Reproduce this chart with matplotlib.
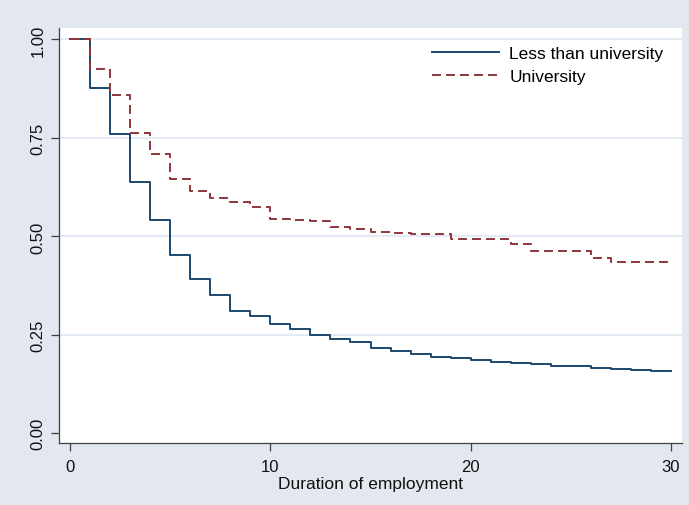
import matplotlib
matplotlib.use("Agg")
import matplotlib.pyplot as plt
import numpy as np

# ---- data ----
times = list(range(0, 31))
less_than_univ = [1.000, 0.878, 0.760, 0.638, 0.542, 0.452, 0.391, 0.351, 0.311, 0.297,
                  0.278, 0.264, 0.249, 0.240, 0.231, 0.217, 0.209, 0.201, 0.193, 0.192,
                  0.187, 0.182, 0.179, 0.176, 0.172, 0.171, 0.167, 0.164, 0.161, 0.158]
university = [1.000, 0.926, 0.859, 0.763, 0.708, 0.645, 0.615, 0.597, 0.587, 0.575,
              0.545, 0.542, 0.538, 0.525, 0.519, 0.510, 0.509, 0.505, 0.505, 0.493,
              0.493, 0.493, 0.481, 0.464, 0.464, 0.464, 0.446, 0.434, 0.434, 0.434]
series_labels = ["Less than university", "University"]
x_ticks = [0, 10, 20, 30]
y_ticks = [0.0, 0.25, 0.5, 0.75, 1.0]
y_ticklabels = ["0.00", "0.25", "0.50", "0.75", "1.00"]
x_label = "Duration of employment"

# ---- style ----
plt.rcParams['font.family'] = ['Liberation Sans', 'DejaVu Sans']
bg = "#E2E7F0"
navy = "#1A476F"
maroon = "#90353B"
grid_c = "#E2E8F2"
fs = 12.5

W, H = 689, 506
fig = plt.figure(figsize=(W / 100, H / 100), dpi=100, facecolor=bg)
ax = fig.add_axes([59 / W, 1 - 444.3 / H, (682 - 59) / W, (444.3 - 29.3) / H])
ax.set_facecolor("white")

blue_y = less_than_univ + [less_than_univ[-1]]
red_y = university + [university[-1]]
ax.step(times, blue_y, where="post", color=navy, lw=1.4, label=series_labels[0], zorder=3)
ax.step(times, red_y, where="post", color=maroon, lw=1.4, linestyle=(0, (4.6, 2.6)),
        label=series_labels[1], zorder=3)

ax.set_xlim(-0.55, 30.55)
ax.set_ylim(-0.0254, 1.0284)

ax.set_xticks(x_ticks)
ax.set_yticks(y_ticks)
ax.set_yticklabels(y_ticklabels, rotation=90, va="center")
for t in y_ticks[1:]:
    ax.axhline(t, color=grid_c, lw=1.3, zorder=1)

for s in ["top", "right"]:
    ax.spines[s].set_visible(False)
for s in ["left", "bottom"]:
    ax.spines[s].set_color("#404040")
    ax.spines[s].set_linewidth(0.9)

ax.tick_params(axis="both", direction="out", length=5.5, width=0.9, color="#404040",
               labelsize=12, labelcolor="#111111")
ax.tick_params(axis="x", pad=5.5)
ax.tick_params(axis="y", pad=4)

ax.set_xlabel(x_label, fontsize=fs, color="#111111", labelpad=1.5)

leg = ax.legend(loc="upper left", bbox_to_anchor=(432 / W, 1 - 47 / H),
                bbox_transform=fig.transFigure, frameon=False, fontsize=fs,
                handlelength=3.85, handletextpad=0.6, labelspacing=0.42, borderpad=0,
                borderaxespad=0)

fig.savefig("out.png", dpi=100, facecolor=bg)
